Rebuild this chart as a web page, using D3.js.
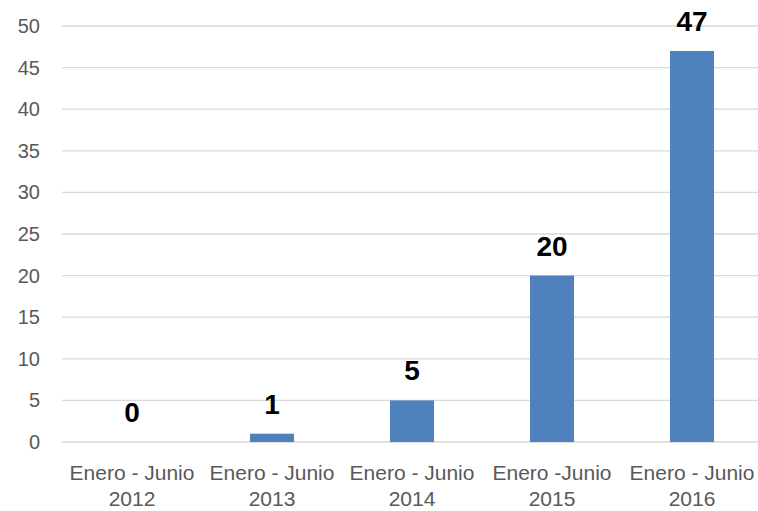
<!DOCTYPE html>
<html><head><meta charset="utf-8">
<script src="https://cdn.jsdelivr.net/npm/d3@7"></script>
<style>body{margin:0;background:#fff}svg{display:block}</style>
</head><body><svg id="c" width="758" height="511"></svg>
<script>
const categoryLine1 = ["Enero - Junio","Enero - Junio","Enero - Junio","Enero -Junio","Enero - Junio"];
const categoryLine2 = ["2012","2013","2014","2015","2016"];
const values = [0,1,5,20,47];
const yTicks = [0,5,10,15,20,25,30,35,40,45,50];

const svg = d3.select("#c");
const font = "'Liberation Sans', Arial, sans-serif";
const x = d3.scaleBand().domain(categoryLine2).range([62,762]).paddingInner(96/140).paddingOuter(48/140);
const y = d3.scaleLinear().domain([0,50]).range([442,26]);

// gridlines
svg.append("g").selectAll("line").data(yTicks).join("line")
  .attr("x1",62).attr("x2",758).attr("y1",d=>y(d)).attr("y2",d=>y(d))
  .attr("stroke","#d9d9d9").attr("stroke-width",1.3);

// y axis labels
const yAxis = d3.axisLeft(y).tickValues(yTicks).tickSize(0).tickPadding(0);
const ya = svg.append("g").attr("transform","translate(40,0)").call(yAxis);
ya.select(".domain").remove();
ya.selectAll("text").attr("font-family",font).attr("font-size",20).attr("fill","#595959");

// bars
svg.append("g").selectAll("rect").data(values).join("rect")
  .attr("x",(d,i)=>x(categoryLine2[i])).attr("width",x.bandwidth())
  .attr("y",d=>y(d)).attr("height",d=>y(0)-y(d)).attr("fill","#4f81bd");

// value labels
svg.append("g").selectAll("text").data(values).join("text")
  .attr("x",(d,i)=>x(categoryLine2[i])+x.bandwidth()/2)
  .attr("y",d=>y(d)-20).attr("text-anchor","middle")
  .attr("font-family",font).attr("font-weight","bold").attr("font-size",28).attr("fill","#000")
  .text(d=>d);

// x labels
const xa = svg.append("g").selectAll("text").data(categoryLine2).join("text")
  .attr("text-anchor","middle").attr("font-family",font).attr("font-size",21).attr("fill","#595959")
  .attr("transform",d=>`translate(${x(d)+x.bandwidth()/2},0)`);
xa.append("tspan").attr("x",0).attr("y",480).text((d,i)=>categoryLine1[i]);
xa.append("tspan").attr("x",0).attr("y",506).text(d=>d);
</script></body></html>
